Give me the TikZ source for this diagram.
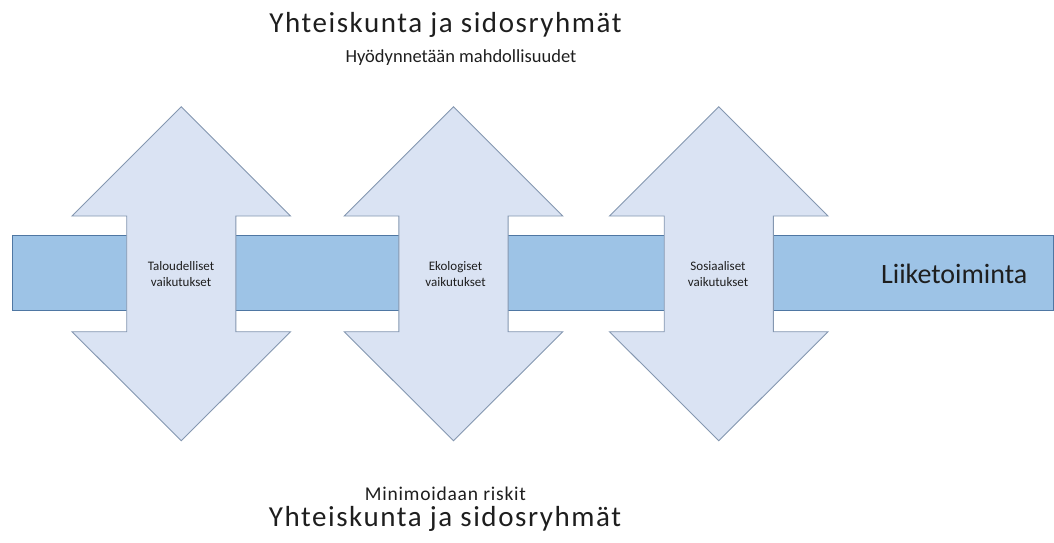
\documentclass[tikz,border=0pt]{standalone}
\usepackage{fontspec}
\setmainfont{Carlito}
\definecolor{bandfill}{HTML}{9DC3E6}
\definecolor{banddraw}{HTML}{4F77A3}
\definecolor{arrfill}{HTML}{DAE3F3}
\definecolor{arrdraw}{HTML}{8497B0}
\definecolor{txt}{HTML}{1E1E1E}
\newfontfamily\titlefont[LetterSpace=5.4]{Carlito}
\newfontfamily\riskfont[LetterSpace=4]{Carlito}
\tikzset{
  band/.style={fill=bandfill, draw=banddraw, line width=0.9pt},
  dblarrow/.style={fill=arrfill, draw=arrdraw, line width=0.9pt, line join=miter},
  title/.style={font=\titlefont\fontsize{29}{33}\selectfont, text=txt, anchor=base, inner sep=0pt},
  subtitle/.style={font=\fontsize{18.5}{22}\selectfont, text=txt, anchor=base, inner sep=0pt},
  risk/.style={font=\riskfont\fontsize{19.5}{23}\selectfont, text=txt, anchor=base, inner sep=0pt},
  lbl/.style={font=\fontsize{13}{16}\selectfont, text=txt, anchor=base, inner sep=0pt},
  biglbl/.style={font=\fontsize{28}{32}\selectfont, text=txt, anchor=base, inner sep=0pt},
}
\begin{document}
\begin{tikzpicture}[x=1pt,y=-1pt]
\useasboundingbox (0,0) rectangle (1054,543);
% business band
\draw[band] (12,235.3) rectangle (1053,310);
% double arrows
\foreach \cx/\nm in {181.3/a1, 453.5/a2, 718.8/a3}{
  \draw[dblarrow] (\cx,106.7) -- (\cx+109.3,216) -- (\cx+54.6,216) -- (\cx+54.6,331.7)
    -- (\cx+109.3,331.7) -- (\cx,440.7) -- (\cx-109.3,331.7) -- (\cx-54.6,331.7)
    -- (\cx-54.6,216) -- (\cx-109.3,216) -- cycle;
}
\node[lbl] (l1a) at (181,270.3) {Taloudelliset};
\node[lbl] (l1b) at (181,286.5) {vaikutukset};
\node[lbl] (l2a) at (455.5,270.3) {Ekologiset};
\node[lbl] (l2b) at (455.5,286.5) {vaikutukset};
\node[lbl] (l3a) at (718,270.3) {Sosiaaliset};
\node[lbl] (l3b) at (718,286.5) {vaikutukset};
\node[biglbl] (lt) at (954.2,283.3) {Liiketoiminta};
% texts
\node[title] (t1) at (445.5,33) {Yhteiskunta ja sidosryhmät};
\node[subtitle] (s1) at (461,63) {Hyödynnetään mahdollisuudet};
\node[risk] (s2) at (445.5,500) {Minimoidaan riskit};
\node[title] (t2) at (445,526.7) {Yhteiskunta ja sidosryhmät};
\end{tikzpicture}
\end{document}
